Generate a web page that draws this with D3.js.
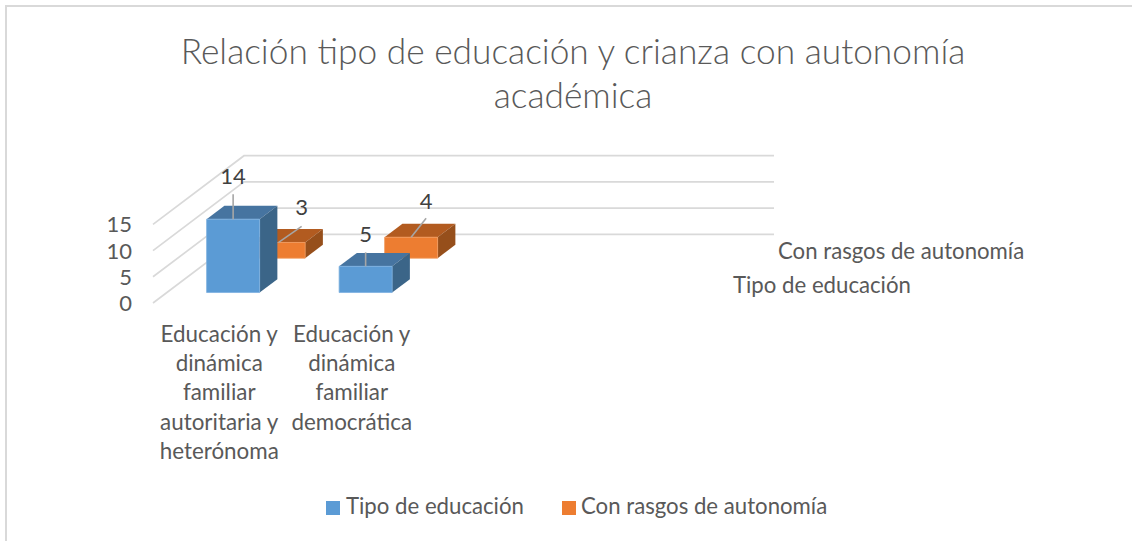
<!DOCTYPE html>
<html><head><meta charset="utf-8">
<script src="https://cdn.jsdelivr.net/npm/d3@7"></script>
<style>html,body{margin:0;padding:0;background:#fff}svg{display:block}text{font-family:Lato,"Open Sans",sans-serif}</style>
</head><body><svg id="c" width="1132" height="541"></svg>
<script>
const titleLines = ["Relación tipo de educación y crianza con autonomía", "académica"];
const categories = [["Educación y","dinámica","familiar","autoritaria y","heterónoma"], ["Educación y","dinámica","familiar","democrática"]];
const categorySlots = [0, 1, 2, 3];
const seriesNames = ["Tipo de educación", "Con rasgos de autonomía"];
const tipoValues = [14, 5];
const rasgosValues = [3, 4];
const yTicks = [0, 5, 10, 15];
const seriesValues = [tipoValues, rasgosValues];

const svg = d3.select("#c");
const x = d3.scaleBand().domain(categorySlots).range([153, 683]);
const y = d3.scaleLinear().domain([0, 15]).range([303, 224.4]);
const z = d3.scaleBand().domain([0, 1]).range([0, 1]);
const depthX = 91, depthY = -68.7;
const barW = 0.4 * x.bandwidth(), barD = 0.39 * z.bandwidth();
const P = (px, v, d) => [px + d * depthX, y(v) + d * depthY];
const pts = a => a.map(p => p.join(",")).join(" ");

// frame
svg.append("path").attr("d", "M6,541V6H1132").attr("fill", "none").attr("stroke", "#d9d9d9").attr("stroke-width", 2);

// title
svg.append("g").selectAll("text").data(titleLines).join("text")
  .attr("x", 573).attr("y", (d, i) => 64 + i * 44).attr("text-anchor", "middle")
  .attr("font-size", 35.3).attr("font-weight", 300).attr("fill", "#595959").text(d => d);

// gridlines
yTicks.forEach(t => {
  const a = P(x.range()[0], t, 0), b = P(x.range()[0], t, 1), c = P(x.range()[1], t, 1);
  svg.append("polyline").attr("points", pts([a, b, c])).attr("fill", "none").attr("stroke", "#d9d9d9").attr("stroke-width", 1.7);
});

// y ticks
svg.append("g").selectAll("text").data(yTicks).join("text")
  .attr("x", 132).attr("y", d => y(d) + 8).attr("text-anchor", "end")
  .attr("font-size", 22).attr("fill", "#595959").text(d => d);

const faces = [{front:"#5b9bd5", top:"#4674a0", side:"#3b6588", edge:"#7cb0e0"}, {front:"#ed7d31", top:"#b25b20", side:"#964f1b", edge:"#f29a5c"}];
const bars = [];
seriesValues.forEach((vals, s) => vals.forEach((v, c) => bars.push({s, c, v})));
bars.sort((a, b) => b.s - a.s || b.c - a.c);
const bar = svg.append("g").selectAll("g").data(bars).join("g");
bar.each(function(d) {
  const g = d3.select(this), f = faces[d.s];
  const x0 = x(d.c) + (x.bandwidth() - barW) / 2, x1 = x0 + barW;
  const d0 = z(d.s) + (z.bandwidth() - barD) / 2, d1 = d0 + barD;
  g.append("polygon").attr("points", pts([P(x0,d.v,d0),P(x0,d.v,d1),P(x1,d.v,d1),P(x1,d.v,d0)])).attr("fill", f.top);
  g.append("polygon").attr("points", pts([P(x1,0,d0),P(x1,0,d1),P(x1,d.v,d1),P(x1,d.v,d0)])).attr("fill", f.side);
  g.append("polygon").attr("points", pts([P(x0,0,d0),P(x1,0,d0),P(x1,d.v,d0),P(x0,d.v,d0)])).attr("fill", f.front).attr("stroke", f.edge).attr("stroke-width", 0.8);
});

// data labels with leader lines (offsets relative to top-front centre of the bar)
const labelOffsets = {"0-0":[0,0,0,-25,0,-43], "1-0":[0,0,23,-16,23,-35], "0-1":[0,0,0,-14,0,-32], "1-1":[0,0,15,-19,15,-36]};
bars.forEach(d => {
  const o = labelOffsets[d.s + "-" + d.c];
  const x0 = x(d.c) + x.bandwidth() / 2;
  const d0 = z(d.s) + (z.bandwidth() - barD) / 2;
  const [cx, cy] = P(x0, d.v, d0);
  svg.append("line").attr("x1", cx + o[0]).attr("y1", cy + o[1]).attr("x2", cx + o[2]).attr("y2", cy + o[3]).attr("stroke", "#a6a6a6").attr("stroke-width", 1.6);
  svg.append("text").attr("x", cx + o[4]).attr("y", cy + o[5] + 8).attr("text-anchor", "middle").attr("font-size", 22).attr("fill", "#404040").text(d.v);
});

// category labels
categories.forEach((lines, i) => {
  svg.append("g").selectAll("text").data(lines).join("text")
    .attr("x", x(i) + x.bandwidth() / 2).attr("y", (d, j) => 342 + j * 29.2).attr("text-anchor", "middle")
    .attr("font-size", 22.4).attr("fill", "#595959").text(d => d);
});

// series axis labels
svg.append("text").attr("x", 778).attr("y", 259).attr("font-size", 22.2).attr("fill", "#595959").text(seriesNames[1]);
svg.append("text").attr("x", 733).attr("y", 293).attr("font-size", 22.2).attr("fill", "#595959").text(seriesNames[0]);

// legend
const legendX = [[326, 346], [562, 581]];
seriesNames.forEach((n, i) => {
  svg.append("rect").attr("x", legendX[i][0]).attr("y", 501).attr("width", 14).attr("height", 14).attr("fill", faces[i].front);
  svg.append("text").attr("x", legendX[i][1]).attr("y", 514).attr("font-size", 22.2).attr("fill", "#595959").text(n);
});
</script></body></html>
